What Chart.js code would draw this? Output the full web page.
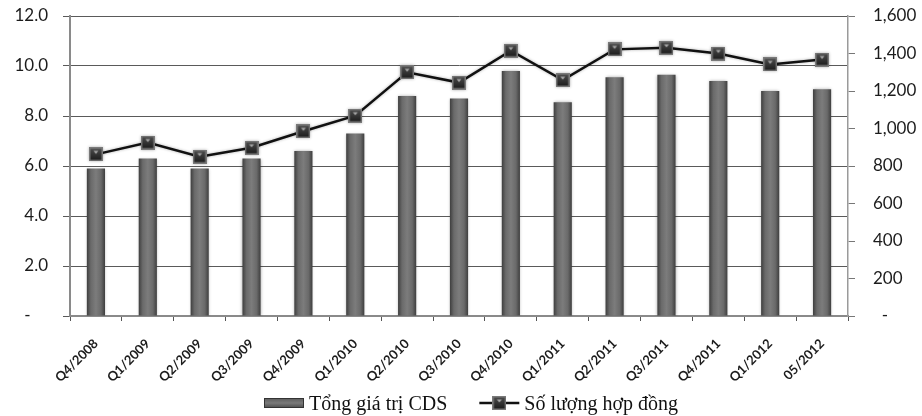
<!DOCTYPE html>
<html>
<head>
<meta charset="utf-8">
<script src="https://cdn.jsdelivr.net/npm/chart.js@4.4.1/dist/chart.umd.min.js"></script>
<style>
  html, body { margin: 0; padding: 0; background: #ffffff; }
  canvas { display: block; }
</style>
</head>
<body>
<canvas id="chart" width="922" height="416"></canvas>
<script>
// Quarterly CDS market: total value (left axis) and number of contracts (right axis)
const categories = ['Q4/2008', 'Q1/2009', 'Q2/2009', 'Q3/2009', 'Q4/2009', 'Q1/2010', 'Q2/2010',
  'Q3/2010', 'Q4/2010', 'Q1/2011', 'Q2/2011', 'Q3/2011', 'Q4/2011', 'Q1/2012', '05/2012'];
const totalCdsValue = [5.9, 6.3, 5.9, 6.3, 6.6, 7.3, 8.8, 8.7, 9.8, 8.55, 9.55, 9.65, 9.4, 9.0, 9.07];
const contractCount = [862, 925, 850, 897, 985, 1068, 1300, 1245, 1415, 1258, 1422, 1430, 1400, 1342, 1368];
const leftTickLabels = ['-    ', '2.0', '4.0', '6.0', '8.0', '10.0', '12.0'];
const rightTickLabels = ['  -', '200', '400', '600', '800', '1,000', '1,200', '1,400', '1,600'];
const seriesNames = ['Tổng giá trị CDS', 'Số lượng hợp đồng'];

const BAR_FRACTION = 0.35;
const AXIS_FONT = { family: 'Lato', size: 17 };
const TEXT_COLOR = '#1c1c1c';

// Square marker with a small light notch, used for line points and the legend
function makeMarker() {
  const c = document.createElement('canvas');
  c.width = 14; c.height = 14;
  const g = c.getContext('2d');
  g.fillStyle = '#7a7a7a';
  g.fillRect(0, 0, 14, 14);
  const gr = g.createLinearGradient(0, 1, 0, 13);
  gr.addColorStop(0, '#4c4c4c');
  gr.addColorStop(1, '#1c1c1c');
  g.fillStyle = gr;
  g.fillRect(1.5, 1.5, 11, 11);
  g.fillStyle = '#a8a8a8';
  g.beginPath();
  g.moveTo(4.5, 3.5); g.lineTo(9.5, 3.5); g.lineTo(7, 6.5); g.closePath();
  g.fill();
  return c;
}
const marker = makeMarker();

// Horizontal shading across each bar: darker edges, lighter middle
function barFill(ctx) {
  const chart = ctx.chart;
  const xs = chart.scales && chart.scales.x;
  if (!xs || ctx.dataIndex === undefined || !xs.width) return '#707070';
  const cx = xs.getPixelForValue(ctx.dataIndex);
  const half = xs.width / categories.length * BAR_FRACTION / 2;
  const g = chart.ctx.createLinearGradient(cx - half, 0, cx + half, 0);
  g.addColorStop(0, '#3e3e3e');
  g.addColorStop(0.22, '#6a6a6a');
  g.addColorStop(0.5, '#7c7c7c');
  g.addColorStop(0.78, '#6a6a6a');
  g.addColorStop(1, '#3e3e3e');
  return g;
}

// Soft halo around bars and the line
const haloPlugin = {
  id: 'halo',
  beforeDatasetDraw(chart) {
    const c = chart.ctx;
    c.save();
    c.shadowColor = 'rgba(0,0,0,0.32)';
    c.shadowBlur = 3;
    c.shadowOffsetX = 0;
    c.shadowOffsetY = 0;
  },
  afterDatasetDraw(chart) {
    chart.ctx.restore();
  }
};

// Legend row under the axis labels
const legendPlugin = {
  id: 'bottomLegend',
  afterDraw(chart) {
    const c = chart.ctx;
    const area = chart.chartArea;
    c.save();
    c.font = '20px "Liberation Serif"';
    c.fillStyle = '#111';
    c.textBaseline = 'alphabetic';
    const swatchW = 40, gapText = 5, gapItem = 32;
    const w0 = c.measureText(seriesNames[0]).width;
    const w1 = c.measureText(seriesNames[1]).width;
    const total = swatchW + gapText + w0 + gapItem + swatchW + gapText + w1;
    let x = (area.left + area.right) / 2 + 12 - total / 2;
    const cy = 403, base = 410;
    // bar swatch
    const g = c.createLinearGradient(0, cy - 5, 0, cy + 5);
    g.addColorStop(0, '#5a5a5a');
    g.addColorStop(0.5, '#7a7a7a');
    g.addColorStop(1, '#4a4a4a');
    c.fillStyle = g;
    c.fillRect(x, cy - 5, swatchW, 10);
    c.strokeStyle = '#333';
    c.lineWidth = 1;
    c.strokeRect(x + 0.5, cy - 4.5, swatchW - 1, 9);
    x += swatchW + gapText;
    c.fillStyle = '#111';
    c.fillText(seriesNames[0], x, base);
    x += w0 + gapItem;
    // line swatch
    c.strokeStyle = '#111';
    c.lineWidth = 2.5;
    c.beginPath();
    c.moveTo(x, cy); c.lineTo(x + swatchW, cy);
    c.stroke();
    c.drawImage(marker, x + swatchW / 2 - 7, cy - 7);
    x += swatchW + gapText;
    c.fillText(seriesNames[1], x, base);
    c.restore();
  }
};

// Value axes keep a fixed width and do not push the plot area down
function fixAxis(width) {
  return (s) => {
    s.width = width;
    s.paddingTop = 0;
    s.paddingBottom = 0;
  };
}

new Chart(document.getElementById('chart'), {
  type: 'bar',
  data: {
    labels: categories,
    datasets: [
      {
        type: 'line',
        label: seriesNames[1],
        data: contractCount,
        yAxisID: 'yRight',
        borderColor: '#111111',
        borderWidth: 2.5,
        tension: 0,
        pointStyle: marker,
        pointRadius: 6,
        order: 0
      },
      {
        type: 'bar',
        label: seriesNames[0],
        data: totalCdsValue,
        yAxisID: 'yLeft',
        backgroundColor: barFill,
        borderColor: '#444444',
        borderWidth: 0,
        categoryPercentage: 1,
        barPercentage: BAR_FRACTION,
        order: 1
      }
    ]
  },
  options: {
    responsive: false,
    animation: false,
    devicePixelRatio: 1,
    layout: { padding: { top: 16, bottom: 0, left: 0, right: 0 } },
    plugins: {
      legend: { display: false },
      tooltip: { enabled: false }
    },
    scales: {
      x: {
        offset: true,
        border: { color: '#8a8a8a', width: 2 },
        grid: { display: true, drawOnChartArea: false, tickLength: 5, color: '#555', lineWidth: 1 },
        ticks: {
          color: TEXT_COLOR,
          font: { family: 'Lato', size: 13, weight: 'bold' },
          maxRotation: 45,
          minRotation: 45,
          autoSkip: false,
          padding: 15
        },
        afterFit(s) { s.height = 100; s.paddingLeft = 0; s.paddingRight = 0; }
      },
      yLeft: {
        position: 'left',
        min: 0,
        max: 12,
        border: { color: '#8a8a8a', width: 2 },
        grid: { color: '#5a5a5a', lineWidth: 1, borderDash: [3, 2], tickLength: 7, tickColor: '#5a5a5a' },
        ticks: {
          stepSize: 2,
          padding: 15,
          color: TEXT_COLOR,
          font: AXIS_FONT,
          callback: (v, i) => leftTickLabels[i]
        },
        afterFit: fixAxis(70)
      },
      yRight: {
        position: 'right',
        min: 0,
        max: 1600,
        border: { color: '#9a9a9a', width: 1.5 },
        grid: { drawOnChartArea: false, tickLength: 7, color: '#777' },
        ticks: {
          stepSize: 200,
          padding: 18,
          color: TEXT_COLOR,
          font: AXIS_FONT,
          callback: (v, i) => rightTickLabels[i]
        },
        afterFit: fixAxis(74)
      }
    }
  },
  plugins: [haloPlugin, legendPlugin]
});
</script>
</body>
</html>
